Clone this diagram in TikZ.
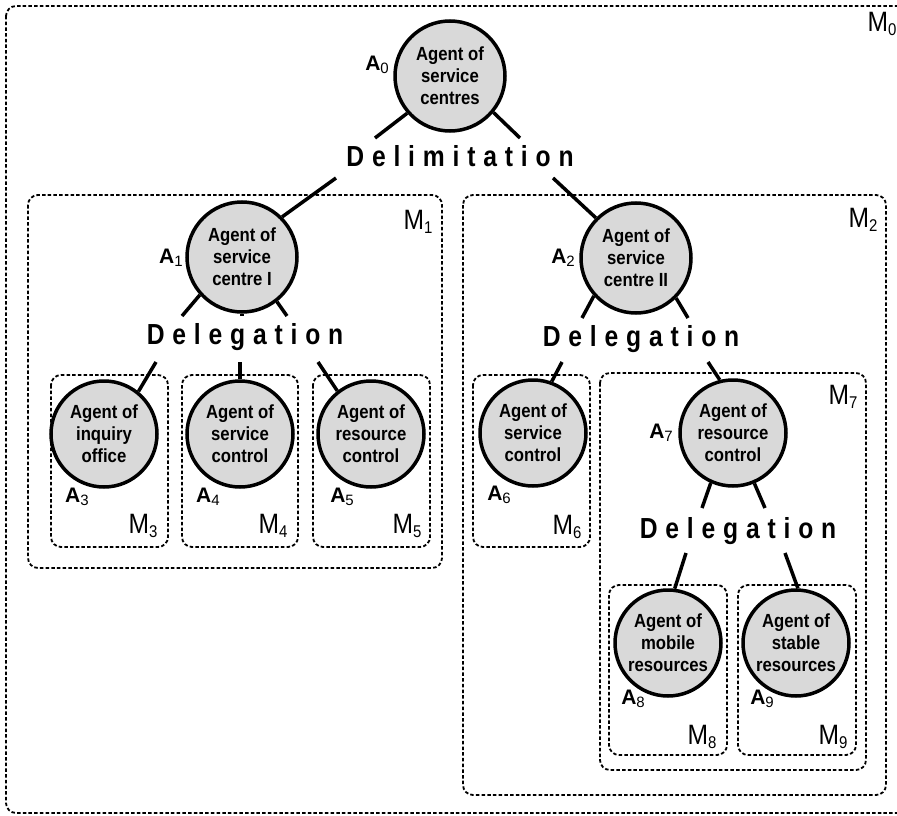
\documentclass[tikz,border=0pt]{standalone}
\usepackage{fontspec}
\setmainfont{Liberation Sans}
\newfontfamily\narrowfont[FakeStretch=0.88]{Liberation Sans}
\newfontfamily\spacedfont[FakeStretch=0.85,LetterSpace=27]{Liberation Sans}
\definecolor{agentfill}{RGB}{217,217,217}

% agent label: bold A with a lighter subscript
\newcommand\alab[1]{A\raisebox{-0.25ex}{\fontsize{15}{15}\selectfont\mdseries #1}}
% module label: M with subscript
\newcommand\mlab[1]{M\raisebox{-0.3ex}{\fontsize{17}{17}\selectfont #1}}

\tikzset{
  agent/.style={circle, draw, line width=3.5pt, fill=agentfill, inner sep=0pt,
    minimum size=110pt, align=center,
    font=\narrowfont\fontsize{19}{22}\selectfont\bfseries},
  smallagent/.style={agent, minimum size=106pt},
  mbox/.style={draw, line width=1.8pt, dash pattern=on 3.5pt off 2.2pt, rounded corners=10pt},
  link/.style={line width=3.5pt},
  actword/.style={inner sep=0pt, font=\spacedfont\fontsize{29}{29}\selectfont\bfseries},
  alabel/.style={inner sep=0pt, font=\fontsize{21}{21}\selectfont\bfseries},
  mlabel/.style={inner sep=0pt, font=\narrowfont\fontsize{28}{28}\selectfont},
}

\begin{document}
\begin{tikzpicture}[x=1pt,y=-1pt]
\useasboundingbox (0,0) rectangle (897,816);
\fill[white] (0,0) rectangle (897,816);

% modules
\draw[mbox] (6,6) rectangle (925,813);
\draw[mbox] (28,195) rectangle (442,568);
\draw[mbox] (463,195) rectangle (886,795);
\draw[mbox] (51,375) rectangle (168,547);
\draw[mbox] (182,375) rectangle (298,547);
\draw[mbox] (313,375) rectangle (430,547);
\draw[mbox] (473,375) rectangle (590,547);
\draw[mbox] (600,373) rectangle (866,770);
\draw[mbox] (609,585) rectangle (727,755);
\draw[mbox] (738,585) rectangle (856,755);

% module labels
\node[mlabel] (m0) at (882,24) {\mlab{0}};
\node[mlabel] (m1) at (418,222) {\mlab{1}};
\node[mlabel] (m2) at (863,220) {\mlab{2}};
\node[mlabel] (m3) at (143,526) {\mlab{3}};
\node[mlabel] (m4) at (273,526) {\mlab{4}};
\node[mlabel] (m5) at (407,526) {\mlab{5}};
\node[mlabel] (m6) at (567,527) {\mlab{6}};
\node[mlabel] (m7) at (843,397) {\mlab{7}};
\node[mlabel] (m8) at (702,737) {\mlab{8}};
\node[mlabel] (m9) at (833,737) {\mlab{9}};

% agents
\node[agent] (a0) at (450,76) {Agent of\\service\\centres};
\node[agent] (a1) at (242,257) {Agent of\\service\\centre I};
\node[agent] (a2) at (636,258) {Agent of\\service\\centre II};
\node[smallagent] (a3) at (104,434) {Agent of\\inquiry\\office};
\node[smallagent] (a4) at (240,434) {Agent of\\service\\control};
\node[smallagent] (a5) at (371,434) {Agent of\\resource\\control};
\node[smallagent] (a6) at (533,433) {Agent of\\service\\control};
\node[smallagent] (a7) at (733,433) {Agent of\\resource\\control};
\node[smallagent] (a8) at (668,643) {Agent of\\mobile\\resources};
\node[smallagent] (a9) at (796,643) {Agent of\\stable\\resources};

% agent labels
\node[alabel] (l0) at (377,65) {\alab{0}};
\node[alabel] (l1) at (171,258) {\alab{1}};
\node[alabel] (l2) at (563,258) {\alab{2}};
\node[alabel] (l3) at (77,497) {\alab{3}};
\node[alabel] (l4) at (208,497) {\alab{4}};
\node[alabel] (l5) at (342,497) {\alab{5}};
\node[alabel] (l6) at (499,495) {\alab{6}};
\node[alabel] (l7) at (661,433) {\alab{7}};
\node[alabel] (l8) at (633,699) {\alab{8}};
\node[alabel] (l9) at (762,699) {\alab{9}};

% relations
\node[actword] (delim) at (460,156) {Delimitation};
\node[actword] (del1) at (245,337) {Delegation};
\node[actword] (del2) at (641,339) {Delegation};
\node[actword] (del3) at (738,531) {Delegation};

% free ends of the connectors
\coordinate (d0a) at (375,138);
\coordinate (d0b) at (520,138);
\coordinate (d0c) at (336,178);
\coordinate (d0d) at (553,178);
\coordinate (d1a) at (182,316);
\coordinate (d1b) at (242,316);
\coordinate (d1c) at (287,316);
\coordinate (d1d) at (156,362);
\coordinate (d1e) at (240,362);
\coordinate (d1f) at (318,362);
\coordinate (d2a) at (582,318);
\coordinate (d2b) at (688,318);
\coordinate (d2c) at (562,362);
\coordinate (d2d) at (708,362);
\coordinate (d3a) at (702,508);
\coordinate (d3b) at (765,508);
\coordinate (d3c) at (686,553);
\coordinate (d3d) at (785,553);

% connectors
\draw[link] (a0.221) -- (d0a);
\draw[link] (a0.320) -- (d0b);
\draw[link] (d0c) -- (a1.45);
\draw[link] (d0d) -- (a2.135);
\draw[link] (a1.222) -- (d1a);
\draw[link] (a1.270) -- (d1b);
\draw[link] (a1.308) -- (d1c);
\draw[link] (d1d) -- (a3.51);
\draw[link] (d1e) -- (a4.90);
\draw[link] (d1f) -- (a5.128);
\draw[link] (a2.222) -- (d2a);
\draw[link] (a2.315) -- (d2b);
\draw[link] (d2c) -- (a6.70);
\draw[link] (d2d) -- (a7.104);
\draw[link] (a7.246) -- (d3a);
\draw[link] (a7.293) -- (d3b);
\draw[link] (d3c) -- (a8.83);
\draw[link] (d3d) -- (a9.88);
\end{tikzpicture}
\end{document}
